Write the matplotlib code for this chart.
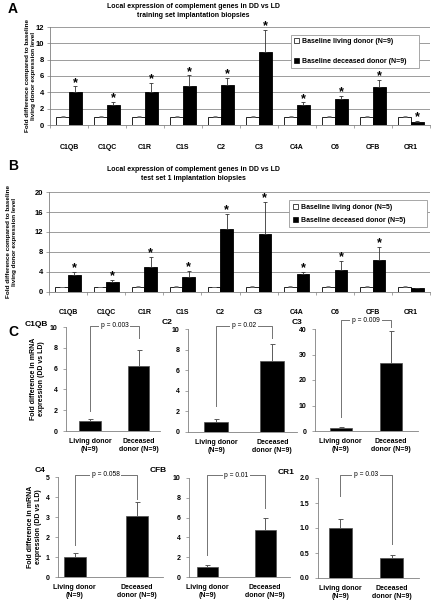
import numpy as np
import matplotlib
matplotlib.use("Agg")
import matplotlib.pyplot as plt

plt.rcParams['font.family'] = ['Liberation Sans', 'DejaVu Sans']
plt.rcParams['font.weight'] = 'bold'

genes = ["C1QB", "C1QC", "C1R", "C1S", "C2", "C3", "C4A", "C6", "CFB", "CR1"]

# panel A : training set (N=9)
a_live = [1.0, 1.0, 1.0, 1.0, 1.0, 1.0, 1.0, 1.0, 1.0, 1.0]
a_live_err = [0.08, 0.08, 0.15, 0.15, 0.15, 0.15, 0.15, 0.08, 0.15, 0.15]
a_dec = [4.0, 2.5, 4.1, 4.75, 4.9, 9.0, 2.5, 3.15, 4.7, 0.4]
a_dec_err = [0.75, 0.35, 1.1, 1.35, 0.85, 2.65, 0.3, 0.4, 0.8, 0.1]
a_star = [True] * 10

# panel B : test set 1 (N=5)
b_live = [1.0, 1.0, 1.0, 1.0, 1.0, 1.0, 1.0, 1.0, 1.0, 1.1]
b_live_err = [0.1, 0.1, 0.15, 0.2, 0.1, 0.15, 0.2, 0.15, 0.15, 0.1]
b_dec = [3.45, 2.0, 5.1, 3.1, 12.7, 11.6, 3.6, 4.5, 6.5, 0.8]
b_dec_err = [0.55, 0.45, 1.9, 1.1, 2.9, 6.5, 0.5, 1.8, 2.5, 0.05]
b_star = [True] * 9 + [False]

# panel C : individual genes
c_names = ["C1QB", "C2", "C3", "C4", "CFB", "CR1"]
c_live = [1.0, 1.0, 1.2, 1.02, 0.97, 1.0]
c_live_err = [0.15, 0.3, 0.2, 0.2, 0.25, 0.19]
c_dec = [6.25, 6.85, 26.5, 3.07, 4.7, 0.4]
c_dec_err = [1.55, 1.7, 12.7, 0.7, 1.3, 0.06]
c_p = ["p = 0.003", "p = 0.02", "p = 0.009", "p = 0.058", "p = 0.01", "p = 0.03"]
c_ymax = [10, 10, 40, 5, 10, 2.0]
c_ystep = [2, 2, 10, 1, 2, 0.5]
# bracket: bottom of left leg, top, bottom of right leg
c_brk = [(1.9, 10.1, 8.9), (2.5, 10.3, 9.1), (5.6, 43.4, 40.7),
         (1.6, 5.1, 3.9), (2.2, 10.3, 7.0), (1.65, 2.07, 0.68)]
c_xt = ["Living donor\n(N=9)", "Deceased\ndonor (N=9)"]

W, H = 432, 600
fig = plt.figure(figsize=(4.32, 6.0), dpi=100)


def px_axes(x0, x1, y0, y1):
    return fig.add_axes([x0 / W, 1 - y1 / H, (x1 - x0) / W, (y1 - y0) / H])


def style_spines(ax):
    for s in ["top", "right"]:
        ax.spines[s].set_visible(False)
    for s in ["left", "bottom"]:
        ax.spines[s].set_color("0.5")
        ax.spines[s].set_linewidth(0.6)


def group_panel(ax, live, live_err, dec, dec_err, star, ymax, ystep, n, legbox, lspace, pad):
    x = np.arange(len(genes))
    w = 0.33
    ax.bar(x - w / 2, live, w, color="white", edgecolor="black", linewidth=0.6, zorder=3,
           label=f"Baseline living donor (N={n})")
    ax.bar(x + w / 2, dec, w, color="black", edgecolor="black", linewidth=0.6, zorder=3,
           label=f"Baseline deceased donor (N={n})")
    ax.errorbar(x - w / 2, live, yerr=[np.zeros(len(x)), live_err], fmt="none",
                ecolor="0.45", elinewidth=0.6, capsize=1.5, capthick=0.6, zorder=4)
    ax.errorbar(x + w / 2, dec, yerr=[np.zeros(len(x)), dec_err], fmt="none",
                ecolor="0.2", elinewidth=0.6, capsize=1.5, capthick=0.6, zorder=4)
    for i in range(len(x)):
        if star[i]:
            ax.annotate("*", (x[i] + w / 2, dec[i] + dec_err[i]), xytext=(0, 0.3),
                        textcoords="offset points", ha="center", va="baseline",
                        fontsize=9, fontweight="bold")
    ax.set_xlim(-0.5, len(x) - 0.5)
    ax.set_ylim(0, ymax)
    ax.set_yticks(np.arange(0, ymax + 0.1, ystep))
    ax.set_xticks(x)
    ax.set_xticklabels(genes, fontsize=5, fontweight="bold")
    ax.set_xticks(np.arange(-0.5, len(x), 1), minor=True)
    ax.tick_params(axis="x", which="major", length=0, pad=pad)
    ax.tick_params(axis="x", which="minor", length=2, width=0.5, color="0.5")
    ax.tick_params(axis="y", labelsize=5.5, length=2, width=0.5, color="0.5", pad=2)
    for t in ax.get_yticklabels():
        t.set_fontweight("bold")
    ax.yaxis.grid(True, color="0.55", linewidth=0.6, zorder=0)
    ax.set_axisbelow(True)
    style_spines(ax)
    leg = ax.legend(loc="upper left", bbox_to_anchor=legbox, mode="expand",
                    prop={"weight": "bold", "size": 5}, fancybox=False, framealpha=1,
                    edgecolor="0.6", handlelength=0.7, handleheight=0.7, handletextpad=0.4,
                    borderpad=0.5, labelspacing=lspace)
    leg.get_frame().set_linewidth(0.6)
    for hdl in leg.legend_handles:
        hdl.set_linewidth(0.5)
    ax.set_ylabel("Fold difference compared to baseline\nliving donor expression level",
                  fontsize=4.6, fontweight="bold", linespacing=1.3)


# ---- A
axA = px_axes(50, 430, 27, 125)
group_panel(axA, a_live, a_live_err, a_dec, a_dec_err, a_star, 12, 2, 9,
            (0.624, 0.955, 0.356, 0.0), 1.75, 14)
axA.yaxis.set_label_coords(-0.037, 0.5)
fig.text(193 / W, 1 - 11 / H, "Local expression of complement genes in DD vs LD\ntraining set implantation biopsies",
         ha="center", va="center", fontsize=5, fontweight="bold", linespacing=1.4)
fig.text(8 / W, 1 - 9 / H, "A", fontsize=10, fontweight="bold", va="center")

# ---- B
axB = px_axes(49, 430, 192, 292)
group_panel(axB, b_live, b_live_err, b_dec, b_dec_err, b_star, 20, 4, 5,
            (0.622, 0.95, 0.378, 0.0), 0.85, 12)
axB.yaxis.set_label_coords(-0.084, 0.5)
fig.text(193 / W, 1 - 174 / H, "Local expression of complement genes in DD vs LD\ntest set 1 implantation biopsies",
         ha="center", va="center", fontsize=5, fontweight="bold", linespacing=1.4)
fig.text(8 / W, 1 - 166 / H, "B", fontsize=10, fontweight="bold", va="center")

# ---- C
fig.text(8 / W, 1 - 332 / H, "C", fontsize=10, fontweight="bold", va="center")
c_pos = [(66, 160, 327, 431), (188, 297, 329, 432), (315, 418, 329, 431),
         (58, 163, 477, 577), (189, 290, 478, 577), (318, 419, 478, 578)]
c_xlim = [(-0.49, 1.43), (-0.5, 1.44), (-0.51, 1.53),
          (-0.27, 1.42), (-0.32, 1.43), (-0.43, 1.53)]
c_barw = [0.43, 0.42, 0.43, 0.35, 0.36, 0.45]
c_title = [(25, 325), (162, 323), (292, 323), (35, 471), (150, 471), (278, 472)]
c_ylab = [-0.22, None, None, -0.15, None, None]
for k in range(6):
    x0, x1, y0, y1 = c_pos[k]
    ax = px_axes(x0, x1, y0, y1)
    xs = np.array([0, 1])
    vals = [c_live[k], c_dec[k]]
    errs = [c_live_err[k], c_dec_err[k]]
    ax.bar(xs, vals, c_barw[k], color="black", edgecolor="0.3", linewidth=0.5, zorder=3)
    ax.errorbar(xs, vals, yerr=[[0, 0], errs], fmt="none", ecolor="0.35",
                elinewidth=0.7, capsize=1.8, capthick=0.7, zorder=4)
    ymax = c_ymax[k]
    ax.set_xlim(*c_xlim[k])
    ax.set_ylim(0, ymax)
    yt = np.arange(0, ymax + 1e-6, c_ystep[k])
    ax.set_yticks(yt)
    if ymax == 2.0:
        ax.set_yticklabels([f"{v:.1f}" for v in yt])
    ax.set_xticks(xs)
    ax.set_xticklabels(c_xt, fontsize=5, fontweight="bold", linespacing=1.2)
    ax.tick_params(axis="x", length=0, pad=5)
    ax.tick_params(axis="y", labelsize=5, length=2, width=0.5, color="0.5", pad=4)
    for t in ax.get_yticklabels():
        t.set_fontweight("bold")
    style_spines(ax)
    lo, top, ro = c_brk[k]
    ax.plot([0, 0, 1, 1], [lo, top, top, ro], color="0.45", linewidth=0.7,
            clip_on=False, zorder=2)
    ax.text(0.5, top, c_p[k], ha="center", va="center", fontsize=4.8,
            fontweight="normal", clip_on=False, zorder=5,
            bbox=dict(facecolor="white", edgecolor="none", pad=1.2))
    if c_ylab[k] is not None:
        ax.set_ylabel("Fold difference in mRNA\nexpression (DD vs LD)", fontsize=5,
                      fontweight="bold", linespacing=1.3)
        ax.yaxis.set_label_coords(c_ylab[k], 0.5)
    tx, ty = c_title[k]
    fig.text(tx / W, 1 - ty / H, c_names[k], fontsize=6, fontweight="bold", va="center")

fig.savefig("out.png", dpi=100)
